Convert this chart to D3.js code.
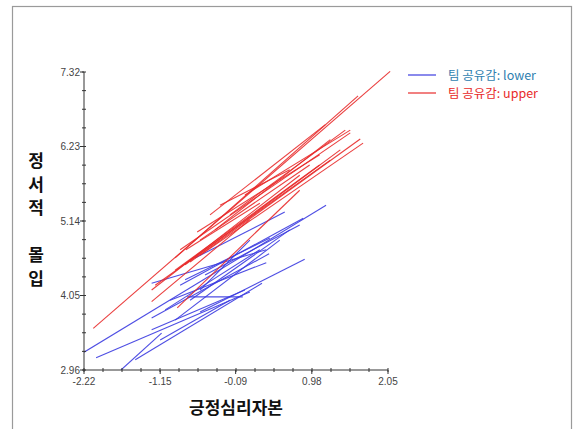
<!DOCTYPE html>
<html>
<head>
<meta charset="utf-8">
<script src="https://cdn.jsdelivr.net/npm/d3@7"></script>
<style>
  body { margin: 0; background: #fff; }
  svg { display: block; }
</style>
</head>
<body>
<div id="chart"></div>
<script>
// tick labels
const xTicks = [-2.22, -1.15, -0.09, 0.98, 2.05]
const yTicks = [2.96, 4.05, 5.14, 6.23, 7.32]

// 팀 공유감: lower (start x, start y, end x, end y)
const lowerX1 = [-2.22, -2.05, -1.70, -1.50, -1.27, -1.27, -0.77, -1.27, -0.66, -0.87, -0.59, -1.01, -0.94, -0.73, -0.59, -1.08, -0.80, -0.52, -1.15]
const lowerY1 = [3.22, 3.14, 2.96, 3.11, 3.72, 3.55, 4.03, 4.23, 4.60, 4.20, 3.81, 3.98, 3.69, 3.98, 4.13, 3.84, 4.28, 4.35, 3.40]
const lowerX2 = [1.18, 0.11, -1.13, 0.28, 0.38, 0.04, 0.01, 0.34, 0.60, 0.86, 0.88, 0.34, 0.53, 0.67, 0.11, 0.25, 0.39, 0.81, -0.17]
const lowerY2 = [5.37, 4.10, 3.50, 4.23, 4.66, 4.13, 4.03, 4.72, 5.27, 5.18, 4.58, 4.53, 4.86, 5.01, 4.86, 4.72, 4.89, 5.08, 3.98]

// 팀 공유감: upper
const upperX1 = [-2.09, -0.94, -0.87, -0.73, -0.59, -1.22, -1.27, -0.94, -0.80, -0.38, -0.17, -0.59, -1.27, -0.91, -0.79, -0.63, -0.45, 0.04, -0.31]
const upperY1 = [3.57, 4.60, 4.72, 4.54, 4.64, 4.20, 4.13, 4.42, 4.50, 5.01, 5.23, 4.86, 3.96, 3.87, 4.72, 4.98, 5.23, 5.52, 5.37]
const upperX2 = [2.08, 1.63, 1.52, 1.66, 1.70, 1.24, 0.81, 1.09, 1.38, 1.24, 1.45, 0.95, 0.11, 0.81, 0.25, 1.09, 1.17, 1.52, 0.67]
const upperY2 = [7.33, 6.97, 6.43, 6.34, 6.28, 6.03, 5.81, 5.96, 6.18, 6.33, 6.47, 5.96, 5.16, 5.59, 5.40, 6.11, 6.55, 6.47, 5.89]

const groups = [
    {name: "팀 공유감: lower", color: "#3b3be0", text: "#2f7fb0", x1: lowerX1, y1: lowerY1, x2: lowerX2, y2: lowerY2},
    {name: "팀 공유감: upper", color: "#e82a2a", text: "#e82a2a", x1: upperX1, y1: upperY1, x2: upperX2, y2: upperY2}
]

const width = 574, height = 429

const svg = d3.select("#chart").append("svg")
    .attr("width", width)
    .attr("height", height)

// outer frame
svg.append("rect")
    .attr("x", 12.5).attr("y", 6.5)
    .attr("width", 559).attr("height", 440)
    .attr("fill", "none")
    .attr("stroke", "#9a9a9a")
    .attr("stroke-width", 1.2)

const x = d3.scaleLinear().domain([-2.22, 2.05]).range([84, 388])
const y = d3.scaleLinear().domain([2.96, 7.32]).range([370, 72])

const plot = svg.append("g")

// clip so segments stay in the axes box
svg.append("clipPath").attr("id", "clip")
    .append("rect").attr("x", 84).attr("y", 60).attr("width", 320).attr("height", 310)

groups.forEach(function (g) {
    var segs = g.x1.map(function (d, i) {
        return {x1: d, y1: g.y1[i], x2: g.x2[i], y2: g.y2[i]}
    })
    plot.append("g")
        .attr("clip-path", "url(#clip)")
        .selectAll("line")
        .data(segs)
        .enter()
        .append("line")
        .attr("x1", d => x(d.x1))
        .attr("y1", d => y(d.y1))
        .attr("x2", d => x(d.x2))
        .attr("y2", d => y(d.y2))
        .attr("stroke", g.color)
        .attr("stroke-width", 1.1)
        .attr("stroke-opacity", 0.9)
})

// axes
const axisColor = "#333"
const xAxis = svg.append("g").attr("transform", "translate(0,370)")
xAxis.append("line").attr("x1", 84).attr("x2", 388).attr("stroke", axisColor)
const xMinor = d3.range(0, 17).map(i => -2.22 + i * (4.27 / 16))
xAxis.selectAll(".minor").data(xMinor).enter().append("line")
    .attr("x1", d => x(d)).attr("x2", d => x(d))
    .attr("y1", -2).attr("y2", 2)
    .attr("stroke", axisColor)
xAxis.selectAll(".major").data(xTicks).enter().append("line")
    .attr("x1", d => x(d)).attr("x2", d => x(d))
    .attr("y1", 0).attr("y2", 4)
    .attr("stroke", axisColor)
xAxis.selectAll("text").data(xTicks).enter().append("text")
    .attr("x", d => x(d))
    .attr("y", 15)
    .attr("text-anchor", "middle")
    .attr("font-family", "Liberation Sans, Arial, sans-serif")
    .attr("font-size", 10)
    .attr("fill", "#444")
    .text(d => d.toFixed(2))

const yAxis = svg.append("g").attr("transform", "translate(84,0)")
yAxis.append("line").attr("y1", 72).attr("y2", 370).attr("stroke", axisColor)
const yMinor = d3.range(0, 17).map(i => 2.96 + i * (4.36 / 16))
yAxis.selectAll(".minor").data(yMinor).enter().append("line")
    .attr("y1", d => y(d)).attr("y2", d => y(d))
    .attr("x1", -2).attr("x2", 2)
    .attr("stroke", axisColor)
yAxis.selectAll(".major").data(yTicks).enter().append("line")
    .attr("y1", d => y(d)).attr("y2", d => y(d))
    .attr("x1", -4).attr("x2", 0)
    .attr("stroke", axisColor)
yAxis.selectAll("text").data(yTicks).enter().append("text")
    .attr("x", -4)
    .attr("y", d => y(d) + 3.5)
    .attr("text-anchor", "end")
    .attr("font-family", "Liberation Sans, Arial, sans-serif")
    .attr("font-size", 10)
    .attr("fill", "#444")
    .text(d => d.toFixed(2))

// axis titles
svg.append("text")
    .attr("x", 236).attr("y", 414)
    .attr("text-anchor", "middle")
    .attr("font-family", "Noto Sans CJK KR, sans-serif")
    .attr("font-weight", "bold")
    .attr("font-size", 17)
    .attr("fill", "#111")
    .text("긍정심리자본")

const yTitle = ["정", "서", "적", "", "몰", "입"]
svg.append("g").selectAll("text").data(yTitle).enter().append("text")
    .attr("x", 36)
    .attr("y", (d, i) => 167 + i * 23.5)
    .attr("text-anchor", "middle")
    .attr("font-family", "Noto Sans CJK KR, sans-serif")
    .attr("font-weight", "bold")
    .attr("font-size", 17)
    .attr("fill", "#111")
    .text(d => d)

// legend
const legend = svg.append("g").attr("transform", "translate(408,75)")
groups.forEach(function (g, i) {
    legend.append("line")
        .attr("x1", 0).attr("x2", 28)
        .attr("y1", i * 18).attr("y2", i * 18)
        .attr("stroke", g.color)
        .attr("stroke-width", 1.2)
    legend.append("text")
        .attr("x", 40).attr("y", i * 18 + 4.5)
        .attr("font-family", "Noto Sans CJK KR, sans-serif")
        .attr("font-size", 12.5)
        .attr("fill", g.text)
        .text(g.name)
})
</script>
</body>
</html>
